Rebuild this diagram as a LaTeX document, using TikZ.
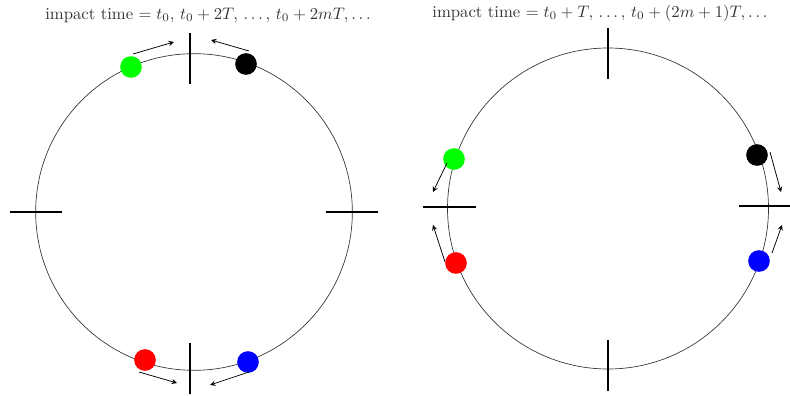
\documentclass[tikz,border=0pt]{standalone}
\usepackage{amsmath}
\usetikzlibrary{arrows, positioning, calc}

\begin{document}
\begin{tikzpicture}[x=0.6pt, y=-0.6pt,
    orbit/.style={circle, draw=black!80, line width=0.4pt, inner sep=0pt, minimum size=190pt},
    ball/.style={circle, inner sep=0pt, minimum size=13pt},
    gate/.style={line width=1.3pt},
    arrow/.style={->, >=stealth, line width=0.45pt},
    caption/.style={text=black!80, font=\normalsize}
]
    \useasboundingbox (0,0) rectangle (790,396);

    % left picture: impact at even multiples
    \node [orbit] (ringL) at (194,212) {};
    \node [caption] (timeL) at (208,15) {impact time $=t_0,\,t_0+2T,\,\ldots,\,t_0+2mT,\ldots$};

    \draw [gate] (190,33) -- (190,84);
    \draw [gate] (190,343) -- (190,394);
    \draw [gate] (10,212) -- (62,212);
    \draw [gate] (326,212) -- (378,212);

    \node [ball, fill=green] (greenL) at (131,67) {};
    \node [ball, fill=black] (blackL) at (246,64) {};
    \node [ball, fill=red] (redL) at (145,360) {};
    \node [ball, fill=blue] (blueL) at (248,362) {};

    \coordinate (gL1) at (133,54);  \coordinate (gL2) at (174,42);
    \coordinate (kL1) at (249,51);  \coordinate (kL2) at (211,40);
    \coordinate (rL1) at (139,372); \coordinate (rL2) at (177,383);
    \coordinate (bL1) at (249,372); \coordinate (bL2) at (210,385);

    \draw [arrow] (gL1) -- (gL2);
    \draw [arrow] (kL1) -- (kL2);
    \draw [arrow] (rL1) -- (rL2);
    \draw [arrow] (bL1) -- (bL2);

    % right picture: impact at odd multiples
    \node [orbit, minimum size=192.6pt] (ringR) at (608,208.5) {};
    \node [caption] (timeR) at (600,13) {impact time $=t_0+T,\,\ldots,\,t_0+(2m+1)T,\ldots$};

    \draw [gate] (608,28) -- (608,79);
    \draw [gate] (608,340) -- (608,391);
    \draw [gate] (423,207) -- (476,207);
    \draw [gate] (739,206) -- (790,206);

    \node [ball, fill=green] (greenR) at (454,159) {};
    \node [ball, fill=black] (blackR) at (757,155) {};
    \node [ball, fill=red] (redR) at (456,263) {};
    \node [ball, fill=blue] (blueR) at (759,261) {};

    \coordinate (gR1) at (447,163); \coordinate (gR2) at (433,192);
    \coordinate (kR1) at (770,152); \coordinate (kR2) at (781,192);
    \coordinate (rR1) at (445,262); \coordinate (rR2) at (433,225);
    \coordinate (bR1) at (772,253); \coordinate (bR2) at (782,225);

    \draw [arrow] (gR1) -- (gR2);
    \draw [arrow] (kR1) -- (kR2);
    \draw [arrow] (rR1) -- (rR2);
    \draw [arrow] (bR1) -- (bR2);
\end{tikzpicture}
\end{document}
